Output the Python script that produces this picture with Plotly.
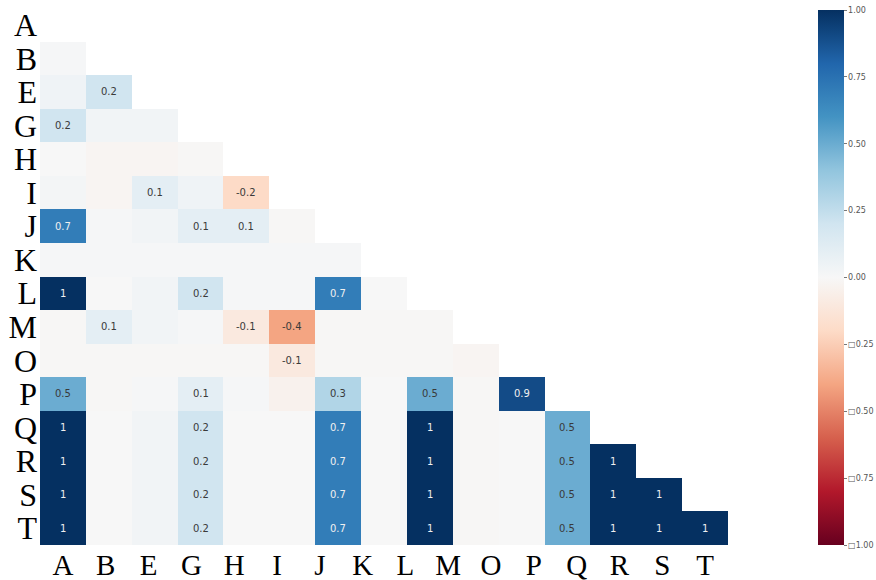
import numpy as np
import plotly.graph_objects as go

# Row labels (y) and tick labels on x
row_labels = ['A', 'B', 'E', 'G', 'H', 'I', 'J', 'K', 'L', 'M', 'O', 'P', 'Q', 'R', 'S', 'T']
x_tick_labels = ['A', 'B', 'E', 'G', 'H', 'I', 'J', 'K', 'L', 'M', 'O', 'P', 'Q', 'R', 'S', 'T']

# Lower-triangle nullity correlation values, one list per row
row_A = []
row_B = [0.01]
row_E = [0.04, 0.2]
row_G = [0.2, 0.03, 0.03]
row_H = [0.0, -0.02, -0.02, -0.01]
row_I = [0.02, -0.02, 0.1, 0.04, -0.2]
row_J = [0.7, 0.01, 0.03, 0.1, 0.1, -0.01]
row_K = [0.01, 0.01, 0.01, 0.01, 0.01, 0.01, 0.01]
row_L = [1, 0.0, 0.03, 0.2, 0.01, 0.01, 0.7, 0.0]
row_M = [-0.01, 0.1, 0.03, 0.01, -0.1, -0.4, -0.01, -0.01, -0.01]
row_O = [-0.01, -0.01, -0.01, -0.01, -0.01, -0.1, -0.01, -0.01, -0.01, -0.02]
row_P = [0.5, -0.01, 0.01, 0.1, 0.01, -0.04, 0.3, 0.0, 0.5, -0.01, 0.9]
row_Q = [1, 0.0, 0.03, 0.2, 0.0, 0.0, 0.7, 0.0, 1, -0.01, 0.0, 0.5]
row_R = [1, 0.0, 0.03, 0.2, 0.0, 0.0, 0.7, 0.0, 1, -0.01, 0.0, 0.5, 1]
row_S = [1, 0.0, 0.03, 0.2, 0.0, 0.0, 0.7, 0.0, 1, -0.01, 0.0, 0.5, 1, 1]
row_T = [1, 0.0, 0.03, 0.2, 0.0, 0.0, 0.7, 0.0, 1, -0.01, 0.0, 0.5, 1, 1, 1]

rows = [row_A, row_B, row_E, row_G, row_H, row_I, row_J, row_K, row_L,
        row_M, row_O, row_P, row_Q, row_R, row_S, row_T]

cbar_vals = [1.0, 0.75, 0.5, 0.25, 0.0, -0.25, -0.5, -0.75, -1.0]
cbar_text = ['1.00', '0.75', '0.50', '0.25', '0.00', '\u25a10.25', '\u25a10.50', '\u25a10.75', '\u25a11.00']

ncols = len(row_labels) - 1
z = np.full((len(row_labels), ncols), np.nan)
for i, r in enumerate(rows):
    for j, v in enumerate(r):
        z[i, j] = v

rdbu = ['#67001f', '#b2182b', '#d6604d', '#f4a582', '#fddbc7', '#f7f7f7',
        '#d1e5f0', '#92c5de', '#4393c3', '#2166ac', '#053061']
colorscale = [[k / 10, c] for k, c in enumerate(rdbu)]

xs = list(range(ncols))
fig = go.Figure(go.Heatmap(
    z=z, x=xs, y=row_labels, colorscale=colorscale, zmin=-1, zmax=1,
    hoverongaps=False,
    colorbar=dict(
        thickness=26, len=0.996, lenmode='fraction',
        xref='container', x=818 / 876, xanchor='left', xpad=0,
        yref='paper', y=0, yanchor='bottom', ypad=0,
        outlinewidth=0,
        tickvals=cbar_vals, ticktext=cbar_text, ticks='outside', ticklen=3,
        tickcolor='#777', tickfont=dict(family='DejaVu Sans', size=8, color='#555'),
    ),
))

annotations = []
for i, r in enumerate(rows):
    for j, v in enumerate(r):
        if abs(v) < 0.05:
            continue
        if v == 1:
            t = '1'
        else:
            t = f'{v:.1f}'
        col = '#f0f0f0' if abs(v) >= 0.6 else '#3a3a3a'
        annotations.append(dict(x=xs[j], y=row_labels[i], text=t, showarrow=False,
                                font=dict(family='DejaVu Sans', size=10, color=col)))

fig.update_layout(
    width=876, height=580,
    margin=dict(l=40, r=148, t=8, b=35, autoexpand=False),
    paper_bgcolor='white', plot_bgcolor='white',
    annotations=annotations,
    xaxis=dict(
        tickmode='array',
        tickvals=list(np.linspace(0, ncols - 1, len(x_tick_labels))),
        ticktext=x_tick_labels, showgrid=False, zeroline=False, automargin=False,
        range=[-0.5, ncols - 0.5], ticks='', ticklabelstandoff=0,
        tickfont=dict(family='Liberation Serif', size=29, color='black'),
    ),
    yaxis=dict(
        tickmode='array', tickvals=row_labels, ticktext=row_labels,
        autorange='reversed', showgrid=False, zeroline=False, ticks='', automargin=False,
        tickfont=dict(family='Liberation Serif', size=32, color='black'),
        ticklabelstandoff=2,
    ),
)

fig.write_html('out.html')
